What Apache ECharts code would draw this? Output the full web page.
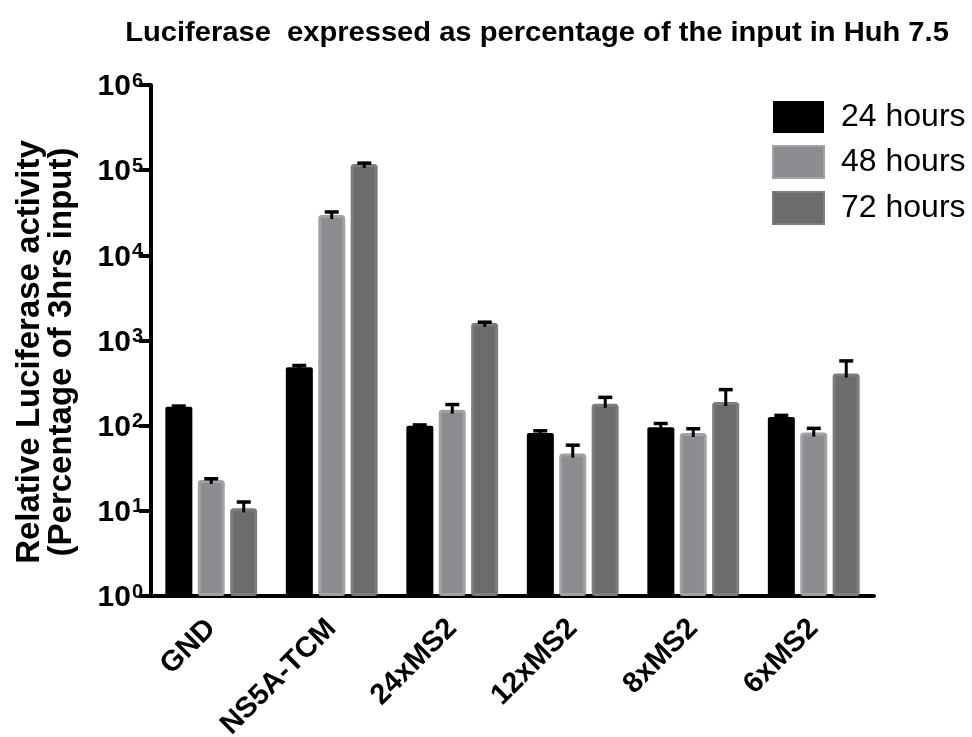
<!DOCTYPE html>
<html>
<head>
<meta charset="utf-8">
<script src="https://cdn.jsdelivr.net/npm/echarts@6/dist/echarts.min.js"></script>
<style>html,body{margin:0;padding:0;background:#fff}#c{width:972px;height:737px}</style>
</head>
<body>
<div id="c"></div>
<script>
const categories = ['GND', 'NS5A-TCM', '24xMS2', '12xMS2', '8xMS2', '6xMS2'];
const seriesNames = ['24 hours', '48 hours', '72 hours'];
const values24 = [167, 486, 100, 82, 96, 126];
const values48 = [23, 29700, 154, 47, 82, 83];
const values72 = [10.7, 117800, 1614, 181, 190, 409];
const errTop24 = [170, 509, 102, 87, 106, 132];
const errTop48 = [23.8, 32300, 177, 59, 92, 93];
const errTop72 = [12.7, 121000, 1640, 215, 265, 576];
const yTickExponents = [0, 1, 2, 3, 4, 5, 6];
const titleText = 'Luciferase  expressed as percentage of the input in Huh 7.5';
const yAxisTitle = 'Relative Luciferase activity\n(Percentage of 3hrs input)';

const chart = echarts.init(document.getElementById('c'));
const FONT = 'Liberation Sans, Arial, sans-serif';
const styles = [
  {color: '#000000', borderColor: '#000000', borderWidth: 0},
  {color: '#8d8d91', borderColor: '#a2a2a5', borderWidth: 3},
  {color: '#6c6c6c', borderColor: '#7d7d7d', borderWidth: 3}
];
const valueSets = [values24, values48, values72];
const errSets = [errTop24, errTop48, errTop72];
const BAR_W = 27, STEP = 32.5;

const barSeries = seriesNames.map((n, i) => ({
  name: n,
  type: 'bar',
  barWidth: BAR_W,
  barGap: '20%',
  itemStyle: Object.assign({borderRadius: 2}, styles[i]),
  data: valueSets[i],
  z: 2
}));

const errSeries = seriesNames.map((n, i) => ({
  name: n + ' error',
  type: 'custom',
  clip: false,
  z: 5,
  data: categories.map((c, k) => [k, valueSets[i][k], errSets[i][k]]),
  renderItem: function (params, api) {
    const base = api.coord([api.value(0), api.value(1)]);
    const top = api.coord([api.value(0), api.value(2)]);
    const x = base[0] + (i - 1) * STEP;
    const y0 = base[1] + 4;
    const y1 = top[1];
    return {
      type: 'group',
      children: [
        {type: 'line', shape: {x1: x, y1: y0, x2: x, y2: y1}, style: {stroke: '#000', lineWidth: 3}},
        {type: 'line', shape: {x1: x - 7, y1: y1, x2: x + 7, y2: y1}, style: {stroke: '#000', lineWidth: 3.5}}
      ]
    };
  }
}));

chart.setOption({
  animation: false,
  backgroundColor: '#fff',
  graphic: [{
    type: 'text', x: 537, y: 33, scaleX: 1.04,
    style: {text: titleText, textAlign: 'center', textVerticalAlign: 'middle',
      font: 'bold 28px ' + FONT, fill: '#000'}
  }, {
    type: 'text', x: 46, y: 352, rotation: Math.PI / 2,
    style: {text: yAxisTitle, textAlign: 'center', textVerticalAlign: 'middle',
      font: 'bold 33px ' + FONT, lineHeight: 32, fill: '#000'}
  }],
  legend: {
    data: seriesNames,
    orient: 'vertical',
    left: 772, top: 101, padding: 0,
    icon: 'rect',
    itemWidth: 51, itemHeight: 32, itemGap: 12,
    textStyle: {fontFamily: FONT, fontSize: 32, color: '#000', padding: [0, 0, 0, 12]}
  },
  grid: {left: 151, right: 98, top: 85, bottom: 141, containLabel: false, outerBoundsMode: 'none'},
  xAxis: {
    type: 'category',
    data: categories,
    axisLine: {lineStyle: {color: '#000', width: 4}},
    axisTick: {alignWithLabel: true, length: 14, lineStyle: {color: '#000', width: 4}},
    axisLabel: {rotate: 45, margin: 28, fontFamily: FONT, fontSize: 29, fontWeight: 'bold', color: '#000', interval: 0}
  },
  yAxis: {
    type: 'log',
    logBase: 10,
    min: 1, max: 1e6,
    axisLine: {show: true, lineStyle: {color: '#000', width: 4}},
    axisTick: {show: true, length: 12, lineStyle: {color: '#000', width: 4}},
    splitLine: {show: false},
    minorTick: {show: false},
    axisLabel: {
      margin: 8,
      formatter: function (v) {
        const e = Math.round(Math.log10(v));
        const k = yTickExponents.indexOf(e);
        return '{b|10}{s|' + (k >= 0 ? yTickExponents[k] : e) + '}';
      },
      rich: {
        b: {fontFamily: FONT, fontSize: 30, fontWeight: 'bold', color: '#000', lineHeight: 30, padding: [4, 0, 0, 0]},
        s: {fontFamily: FONT, fontSize: 20, fontWeight: 'bold', color: '#000', lineHeight: 20, verticalAlign: 'top', padding: [1, 0, 0, 1]}
      }
    }
  },
  series: barSeries.concat(errSeries)
});
</script>
</body>
</html>
